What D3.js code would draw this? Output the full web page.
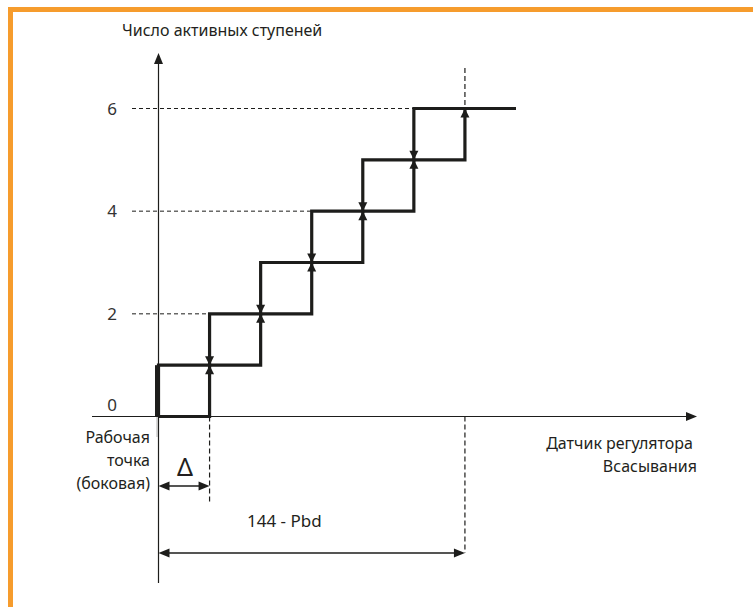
<!DOCTYPE html>
<html>
<head>
<meta charset="utf-8">
<script src="https://cdn.jsdelivr.net/npm/d3@7"></script>
<style>
  body { margin: 0; background: #fff; }
  svg text { font-family: "Noto Sans", "Open Sans", sans-serif; fill: #231f20; }
</style>
</head>
<body>
<svg id="chart"></svg>
<script>
const svgWidth = 753;
const svgHeight = 607;

// stage k switches on at onAt[k-1] (in delta units), off at offAt[k-1]
const stages = [1, 2, 3, 4, 5, 6];
const onAt = [1, 2, 3, 4, 5, 6];
const offAt = [0, 1, 2, 3, 4, 5];
const xEnd = 7;                  // right end of the top step
const yTicks = [0, 2, 4, 6];
const guideLevels = [2, 4, 6];   // dashed helper lines
const bandLabel = "144 - Pbd";
const bandEnd = 6;
const deltaEnd = 1;

const svg = d3.select("#chart")
	.attr("width", svgWidth)
	.attr("height", svgHeight);

const xScale = d3.scaleLinear().domain([0, 7]).range([158.5, 516]);
const yScale = d3.scaleLinear().domain([0, 6]).range([416.5, 108.5]);

const ink = "#1d1d1b";

// orange frame (top + left only)
svg.append("rect").attr("x", 8).attr("y", 7).attr("width", svgWidth - 8).attr("height", 5).attr("fill", "#f69c2d");
svg.append("rect").attr("x", 8).attr("y", 7).attr("width", 5).attr("height", svgHeight - 7).attr("fill", "#f69c2d");

function tri(x, y, dir, len, half) {
	// tip at (x,y), pointing dir
	if (dir === "up") return `M${x},${y}L${x - half},${y + len}L${x + half},${y + len}Z`;
	if (dir === "down") return `M${x},${y}L${x - half},${y - len}L${x + half},${y - len}Z`;
	if (dir === "left") return `M${x},${y}L${x + len},${y - half}L${x + len},${y + half}Z`;
	return `M${x},${y}L${x - len},${y - half}L${x - len},${y + half}Z`;
}

// axes
const x0 = xScale(0), y0 = yScale(0);
svg.append("line").attr("x1", x0).attr("x2", x0).attr("y1", 62).attr("y2", 583)
	.attr("stroke", ink).attr("stroke-width", 1.2);
svg.append("path").attr("d", tri(x0, 53, "up", 11, 4.5)).attr("fill", ink);
svg.append("line").attr("x1", 92).attr("x2", 688).attr("y1", y0).attr("y2", y0)
	.attr("stroke", ink).attr("stroke-width", 1.2);
svg.append("path").attr("d", tri(697, y0, "right", 11, 4.5)).attr("fill", ink);

// y tick labels
svg.selectAll(".ytick").data(yTicks).enter().append("text")
	.attr("x", 112).attr("y", d => yScale(d) - (d === 0 ? 6 : 0))
	.attr("dy", d => d === 0 ? 0 : "0.36em")
	.attr("text-anchor", "middle").attr("font-size", 17)
	.style("fill", "#333")
	.text(d => d);

// dashed guides
const dash = "4,3";
svg.selectAll(".hguide").data(guideLevels).enter().append("line")
	.attr("x1", 132).attr("x2", d => xScale(offAt[d - 1]))
	.attr("y1", d => yScale(d)).attr("y2", d => yScale(d))
	.attr("stroke", ink).attr("stroke-width", 1).attr("stroke-dasharray", dash);
svg.append("line").attr("x1", xScale(bandEnd)).attr("x2", xScale(bandEnd))
	.attr("y1", 68).attr("y2", yScale(6))
	.attr("stroke", ink).attr("stroke-width", 1.2).attr("stroke-dasharray", "5,3");
svg.append("line").attr("x1", xScale(bandEnd)).attr("x2", xScale(bandEnd))
	.attr("y1", y0).attr("y2", 553)
	.attr("stroke", ink).attr("stroke-width", 1.2).attr("stroke-dasharray", "5,3");
svg.append("line").attr("x1", xScale(deltaEnd)).attr("x2", xScale(deltaEnd))
	.attr("y1", y0).attr("y2", 503)
	.attr("stroke", ink).attr("stroke-width", 1.2).attr("stroke-dasharray", "5,3");
svg.append("line").attr("x1", x0 - 1.5).attr("x2", x0 - 1.5)
	.attr("y1", y0 + 1).attr("y2", 437)
	.attr("stroke", "#666").attr("stroke-width", 1).attr("stroke-dasharray", "1,1");

// staircase: rising path and falling path
let upPts = [[0, 0]];
stages.forEach((s, i) => { upPts.push([onAt[i], s - 1]); upPts.push([onAt[i], s]); });
upPts.push([xEnd, stages[stages.length - 1]]);
let downPts = [[xEnd, stages[stages.length - 1]]];
stages.slice().reverse().forEach(s => { downPts.push([offAt[s - 1], s]); downPts.push([offAt[s - 1], s - 1]); });

const line = d3.line().x(d => xScale(d[0])).y(d => yScale(d[1]));
[upPts, downPts].forEach(pts => {
	svg.append("path").attr("d", line(pts)).attr("fill", "none")
		.attr("stroke", ink).attr("stroke-width", 3.2).attr("stroke-linejoin", "miter");
});
// thicker setpoint bar
svg.append("line").attr("x1", x0 - 1.5).attr("x2", x0 - 1.5)
	.attr("y1", y0).attr("y2", yScale(1))
	.attr("stroke", ink).attr("stroke-width", 4);

// arrows at switching points
svg.selectAll(".uparr").data(stages).enter().append("path")
	.attr("d", (s, i) => tri(xScale(onAt[i]), yScale(s), "up", 9, 4.5)).attr("fill", ink);
svg.selectAll(".dnarr").data(stages.slice(0, -1)).enter().append("path")
	.attr("d", s => tri(xScale(offAt[s]), yScale(s), "down", 9, 4.5)).attr("fill", ink);

// dimension arrows
function dimArrow(xa, xb, y) {
	svg.append("line").attr("x1", xa + 8).attr("x2", xb - 8).attr("y1", y).attr("y2", y)
		.attr("stroke", ink).attr("stroke-width", 1.4);
	svg.append("path").attr("d", tri(xa, y, "left", 11, 4.5)).attr("fill", ink);
	svg.append("path").attr("d", tri(xb, y, "right", 11, 4.5)).attr("fill", ink);
}
dimArrow(x0, xScale(deltaEnd), 486);
dimArrow(x0, xScale(bandEnd), 553);

// texts
const fs = 16;
svg.append("text").attr("x", 122).attr("y", 36).attr("font-size", fs).text("Число активных ступеней");
svg.append("text").attr("x", 150).attr("y", 443).attr("text-anchor", "end").attr("font-size", fs).text("Рабочая");
svg.append("text").attr("x", 150).attr("y", 466).attr("text-anchor", "end").attr("font-size", fs).text("точка");
svg.append("text").attr("x", 150).attr("y", 489).attr("text-anchor", "end").attr("font-size", fs).text("(боковая)");
svg.append("text").attr("x", 185).attr("y", 476).attr("text-anchor", "middle").attr("font-size", 25)
	.text("Δ");
svg.append("text").attr("x", 247).attr("y", 527).attr("font-size", fs + 1).text(bandLabel);
svg.append("text").attr("x", 693).attr("y", 449).attr("text-anchor", "end").attr("font-size", fs).text("Датчик регулятора");
svg.append("text").attr("x", 697).attr("y", 472).attr("text-anchor", "end").attr("font-size", fs).text("Всасывания");
</script>
</body>
</html>
